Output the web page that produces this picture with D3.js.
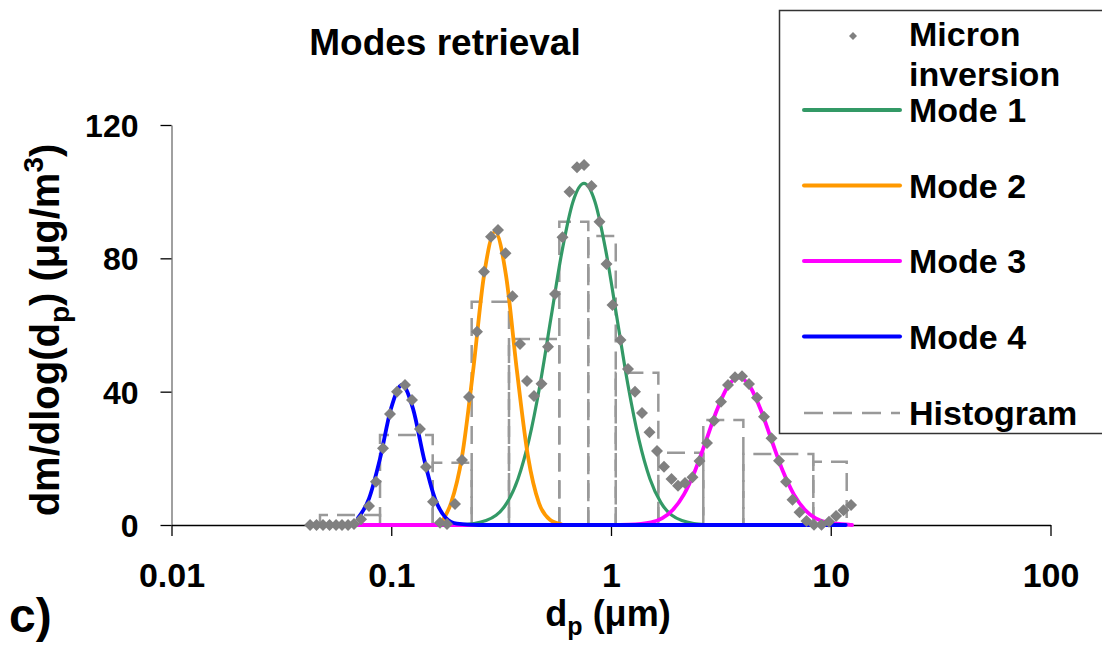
<!DOCTYPE html>
<html>
<head>
<meta charset="utf-8">
<script src="https://cdn.jsdelivr.net/npm/d3@7"></script>
<style>
  body { margin: 0; background: #fff; }
  text { font-family: "Liberation Sans", Arial, sans-serif; font-weight: bold; fill: #000; }
</style>
</head>
<body>
<div id="chart"></div>
<script>
// Micron inversion: diameter (um) and dm/dlog(dp) (ug/m3)
var micronDp = [0.0427,0.0457,0.0489,0.0524,0.0561,0.0597,0.0636,0.0677,0.0729,0.0792,0.0852,0.0917,0.0987,0.1062,0.1155,0.1243,0.1351,0.1439,0.1549,0.1667,0.1793,0.1950,0.2099,0.2259,0.2456,0.2643,0.2844,0.3060,0.3311,0.3563,0.3854,0.4147,0.4462,0.4828,0.5169,0.5562,0.6016,0.6473,0.7002,0.7539,0.8154,0.8865,0.9539,1.016,1.105,1.195,1.286,1.384,1.497,1.619,1.743,1.885,2.018,2.172,2.349,2.527,2.735,2.942,3.167,3.408,3.667,3.947,4.246,4.617,4.968,5.376,5.814,6.259,6.698,7.210,7.757,8.390,9.077,9.818,10.57,11.43,12.37];
var micronVal = [0,0,0,0,0,0,0,0.3,1.7,5.7,13,23,33.3,40,42,37.5,28.8,17.4,7,0.7,0.3,6.3,19.5,38.4,58,76,86.5,88.5,81.5,68.6,54.3,43.2,38.7,42.4,53.5,69.3,86.3,100,107.3,108,101.7,91,78.3,66,55.5,46.8,40,33.6,27.8,22.2,17.5,13.8,11.8,12.6,14.3,19.2,24.6,31.3,37,42,44.3,44.6,42.3,38.2,32.5,26,19.3,13,7.6,3.8,1.2,0.1,0.1,1,2.7,4.4,6];

// histogram: bin edges (um) and bin heights
var histEdges = [0.0474,0.0889,0.1544,0.2323,0.3434,0.5818,0.7883,1.051,1.642,2.630,4.002,8.330,11.82];
var histVal = [3,27,18.7,67,55.8,91,86.7,45.7,21.7,31.5,21.3,19];

// retrieved modes
var mode1Dp = [0.2123,0.2382,0.2999,0.3365,0.3776,0.4236,0.4753,0.5333,0.5984,0.6714,0.7534,0.8453,0.9484,1.064,1.194,1.340,1.503,1.687,1.892,2.382,2.673];
var mode1Val = [0.1,0.4,2.9,6.7,13.9,25.6,42.1,62.2,82.1,97,102.5,97,82.1,62.2,42.1,25.6,13.9,6.7,2.9,0.4,0.1];
var mode2Dp = [0.172,0.1871,0.2100,0.2356,0.2643,0.2966,0.3328,0.3734,0.4190,0.4701,0.5274,0.5918];
var mode2Val = [1.5,6.6,20.6,46.1,74.9,88,74.9,46.1,20.6,6.6,1.6,0.3];
var mode3Dp = [0.0706,1.0,1.208,1.521,1.706,1.914,2.148,2.410,2.704,3.034,3.404,3.819,4.285,4.808,5.395,6.053,6.792,7.621,8.551,9.594,12.08,12.5];
var mode3Val = [0,0,0.1,0.8,2.0,4.6,9.2,16.2,25.2,34.5,41.6,44.3,41.6,34.5,25.2,16.2,9.2,4.6,2.0,0.8,0.1,0];
var mode4Dp = [0.0706,0.0792,0.0889,0.0997,0.1119,0.1256,0.1409,0.1581,0.1774,0.1990,0.25,11.7];
var mode4Val = [2.1,7.9,19.9,34.9,42,34.9,19.9,7.9,2.1,0.4,0,0];

var xTicks = [0.01, 0.1, 1, 10, 100];
var xTickLabels = ["0.01", "0.1", "1", "10", "100"];
var yTicks = [0, 40, 80, 120];
var modeNames = ["Mode 1", "Mode 2", "Mode 3", "Mode 4"];
var modeColors = ["#339966", "#ff9900", "#ff00ff", "#0000ff"];

var width = 1102, height = 645;
var margin = { top: 125, right: 51.5, bottom: 120, left: 171.5 };

var svg = d3.select("#chart")
  .append("svg")
    .attr("width", width)
    .attr("height", height);

var x = d3.scaleLog().domain([0.01, 100]).range([margin.left, width - margin.right]);
var y = d3.scaleLinear().domain([0, 120]).range([height - margin.bottom, margin.top]);

// axes
var yAxis = svg.append("g")
    .attr("transform", "translate(" + margin.left + ",0)")
    .call(d3.axisLeft(y).tickValues(yTicks).tickSize(11).tickSizeOuter(0).tickPadding(22));
yAxis.select(".domain").attr("stroke", "#808080").attr("stroke-width", 1.5);
yAxis.selectAll(".tick line").attr("stroke", "#000").attr("stroke-width", 1.3);
yAxis.selectAll(".tick text").style("font-size", "32px").attr("dy", "0.36em");

var xAxis = svg.append("g")
    .attr("transform", "translate(0," + y(0) + ")")
    .call(d3.axisBottom(x).tickValues(xTicks).tickSize(11).tickSizeOuter(0).tickPadding(27)
      .tickFormat(function(d, i) { return xTickLabels[i]; }));
xAxis.select(".domain").attr("stroke", "#000").attr("stroke-width", 1.5);
xAxis.selectAll(".tick line").attr("stroke", "#000").attr("stroke-width", 1.3);
xAxis.selectAll(".tick text").style("font-size", "34px");

var plot = svg.append("g");

// histogram bins (dashed outlines)
histVal.forEach(function(v, i) {
  var x0 = x(histEdges[i]), x1 = x(histEdges[i + 1]);
  plot.append("path")
    .attr("d", "M" + x0 + "," + y(0) + "V" + y(v) + "H" + x1 + "V" + y(0))
    .attr("fill", "none")
    .attr("stroke", "#999999")
    .attr("stroke-width", 2.5)
    .attr("stroke-dasharray", "18,9");
});

// mode curves
var line = d3.line()
  .x(function(d) { return x(d[0]); })
  .y(function(d) { return y(d[1]); })
  .curve(d3.curveMonotoneX);

var modes = [
  d3.zip(mode1Dp, mode1Val),
  d3.zip(mode2Dp, mode2Val),
  d3.zip(mode3Dp, mode3Val),
  d3.zip(mode4Dp, mode4Val)
];
modes.forEach(function(m, i) {
  plot.append("path")
    .datum(m)
    .attr("d", line)
    .attr("fill", "none")
    .attr("stroke", modeColors[i])
    .attr("stroke-width", i == 0 ? 3.2 : 3.8)
    .attr("stroke-linecap", "round");
});

// micron inversion points
var diamond = "M0,-6L6,0L0,6L-6,0Z";
plot.selectAll(".pt")
  .data(d3.zip(micronDp, micronVal))
  .enter().append("path")
    .attr("class", "pt")
    .attr("d", diamond)
    .attr("transform", function(d) { return "translate(" + x(d[0]) + "," + y(d[1]) + ")"; })
    .attr("fill", "#808080");

// titles
svg.append("text")
  .attr("x", 445).attr("y", 55)
  .attr("text-anchor", "middle")
  .style("font-size", "37px")
  .text("Modes retrieval");

var xt = svg.append("text")
  .attr("x", 608).attr("y", 626)
  .attr("text-anchor", "middle")
  .style("font-size", "36px");
xt.append("tspan").text("d");
xt.append("tspan").attr("dy", 9).style("font-size", "25px").text("p");
xt.append("tspan").attr("dy", -9).text(" (\u03bcm)");

var yt = svg.append("text")
  .attr("transform", "translate(59,330) rotate(-90)")
  .attr("text-anchor", "middle")
  .style("font-size", "40px");
yt.append("tspan").text("dm/dlog(d");
yt.append("tspan").attr("dy", 10).style("font-size", "28px").text("p");
yt.append("tspan").attr("dy", -10).text(") (\u03bcg/m");
yt.append("tspan").attr("dy", -16).style("font-size", "28px").text("3");
yt.append("tspan").attr("dy", 16).text(")");

svg.append("text")
  .attr("x", 9).attr("y", 632)
  .style("font-size", "48px")
  .text("c)");

// legend
var lg = svg.append("g");
lg.append("rect")
  .attr("x", 779.5).attr("y", 10.5)
  .attr("width", 340).attr("height", 423)
  .attr("fill", "#fff")
  .attr("stroke", "#333")
  .attr("stroke-width", 1.5);
lg.append("path")
  .attr("d", "M0,-4L4,0L0,4L-4,0Z")
  .attr("transform", "translate(853,36)")
  .attr("fill", "#808080");
lg.append("text").attr("x", 909).attr("y", 46).style("font-size", "34px").text("Micron");
lg.append("text").attr("x", 909).attr("y", 86).style("font-size", "34px").text("inversion");
modeNames.forEach(function(name, i) {
  var ly = 110 + i * 75.5;
  lg.append("line")
    .attr("x1", 804).attr("x2", 900).attr("y1", ly).attr("y2", ly)
    .attr("stroke", modeColors[i]).attr("stroke-width", 4).attr("stroke-linecap", "round");
  lg.append("text").attr("x", 909).attr("y", ly + 12).style("font-size", "34px").text(name);
});
lg.append("line")
  .attr("x1", 804).attr("x2", 900).attr("y1", 413).attr("y2", 413)
  .attr("stroke", "#999999").attr("stroke-width", 2.5).attr("stroke-dasharray", "19,10");
lg.append("text").attr("x", 909).attr("y", 425).style("font-size", "34px").text("Histogram");
</script>
</body>
</html>
